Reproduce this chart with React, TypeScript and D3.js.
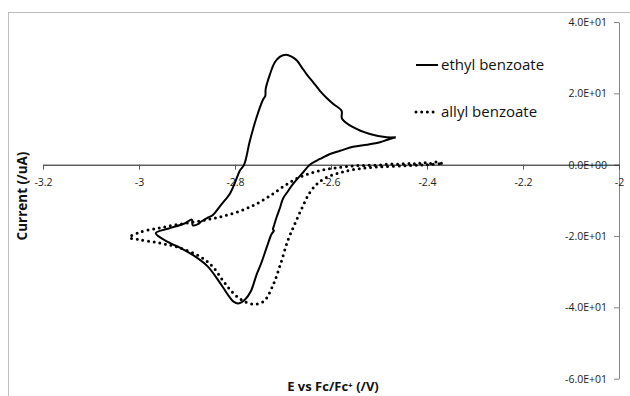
import { useRef, useEffect } from 'react';
import * as d3 from 'd3';

// axis ticks
const xTicks = [-3.2, -3, -2.8, -2.6, -2.4, -2.2, -2];
const yTicks = [40, 20, 0, -20, -40, -60];

const seriesNames = ['ethyl benzoate', 'allyl benzoate'];

// ethyl benzoate CV, starting at the right vertex (E in V, I in uA)
const ethylE = [
    -2.465, -2.484, -2.498, -2.525, -2.554, -2.581, -2.602, -2.623, -2.644, -2.661,
    -2.679, -2.689, -2.700, -2.706, -2.713, -2.719, -2.721, -2.719, -2.724, -2.734,
    -2.745, -2.755, -2.767, -2.779, -2.793, -2.803, -2.812, -2.822, -2.832, -2.857,
    -2.888, -2.913, -2.938, -2.965,
    -2.938, -2.905, -2.890, -2.888, -2.876, -2.871, -2.856, -2.846, -2.831, -2.820,
    -2.810, -2.800, -2.790, -2.781, -2.769, -2.755, -2.741, -2.737, -2.736, -2.727,
    -2.717, -2.706, -2.694, -2.682, -2.671, -2.661, -2.651, -2.637, -2.623, -2.609,
    -2.595, -2.578, -2.577, -2.554, -2.519, -2.484, -2.465
];
const ethylI = [
    7.7, 6.9, 6.3, 5.6, 5.0, 3.9, 3.0, 1.6, 0, -2.6,
    -5.4, -7.3, -9.5, -12.0, -14.6, -17.2, -18.2, -18.5, -19.5, -23.2,
    -27.5, -30.8, -35.5, -37.8, -38.9, -38.4, -37.0, -35.0, -33.0, -28.5,
    -25.3, -23.4, -21.8, -19.2,
    -17.9, -16.5, -15.4, -17.0, -16.6, -16.0, -14.8, -14.1, -11.6, -9.8,
    -8.0, -5.0, -1.7, 0, 6.7, 13.3, 18.4, 19.2, 21.3, 25.4,
    28.7, 30.3, 30.8, 30.3, 29.2, 27.3, 25.4, 23.1, 20.7, 18.7,
    17.0, 15.1, 12.9, 10.5, 8.6, 7.7, 7.7
];

// allyl benzoate CV, starting at the right end
const allylE = [
    -2.370, -2.380, -2.390, -2.400, -2.410, -2.420, -2.430, -2.440, -2.460, -2.480,
    -2.500, -2.525, -2.550, -2.580, -2.610, -2.640, -2.670, -2.700, -2.730, -2.760,
    -2.790, -2.830, -2.870, -2.920, -2.960, -3.000, -3.020,
    -3.000, -2.960, -2.920, -2.870, -2.845, -2.825, -2.805, -2.785, -2.762, -2.740,
    -2.720, -2.705, -2.690, -2.675, -2.660, -2.645, -2.630, -2.610, -2.580, -2.545,
    -2.500, -2.440, -2.400, -2.370
];
const allylI = [
    0.4, 0.8, 0.3, 0.7, 0.2, 0.6, 0.1, 0.4, 0.1, 0.2,
    -0.1, -0.2, -0.3, -0.7, -1.3, -2.3, -3.8, -6.2, -9.0, -11.3,
    -13.0, -14.6, -15.7, -16.8, -17.8, -19.0, -20.4,
    -21.0, -21.9, -23.1, -26.0, -28.8, -32.5, -35.8, -38.0, -39.1, -38.3,
    -33.5, -27.8, -21.3, -16.5, -12.0, -8.0, -5.5, -3.6, -2.2, -1.2,
    -0.6, -0.3, 0.0, 0.3
];

const sci = (v: number) => {
    if (v === 0) return '0.0E+00';
    const e = Math.floor(Math.log10(Math.abs(v)));
    const m = v / Math.pow(10, e);
    return m.toFixed(1) + 'E' + (e < 0 ? '-' : '+') + String(Math.abs(e)).padStart(2, '0');
};

const App = () => {
    const svgRef = useRef<SVGSVGElement>(null);

    useEffect(() => {
        const svg = d3.select(svgRef.current);
        svg.selectAll('*').remove();
        const width = 630;
        const height = 396;
        const font = "'Open Sans', sans-serif";

        const x = d3.scaleLinear().domain([-3.2, -2]).range([43, 619]);
        const y = d3.scaleLinear().domain([-60, 40]).range([378.7, 22]);

        svg.append('rect').attr('width', width).attr('height', height).attr('fill', '#fff');

        // chart area border (right/bottom run off the picture)
        svg.append('rect')
            .attr('x', 8.5).attr('y', 12.5)
            .attr('width', 700).attr('height', 500)
            .attr('fill', 'none').attr('stroke', '#bdbdbd');

        // y axis on the right
        const gy = svg.append('g')
            .attr('transform', `translate(${x(-2)},0)`)
            .call(d3.axisLeft(y).tickValues(yTicks).tickSize(5).tickSizeOuter(0).tickPadding(7).tickFormat((d) => sci(+d)));
        gy.select('.domain').attr('stroke', '#868686');
        gy.selectAll('.tick line').attr('stroke', '#868686');
        gy.selectAll('text').attr('font-family', font).attr('font-size', 10.5).attr('fill', '#222');

        // x axis through zero
        const gx = svg.append('g')
            .attr('transform', `translate(0,${y(0)})`)
            .call(d3.axisBottom(x).tickValues(xTicks).tickSize(5).tickSizeOuter(0).tickPadding(9).tickFormat((d) => String(d)));
        gx.select('.domain').attr('stroke', '#111');
        gx.selectAll('.tick line').attr('stroke', '#555');
        gx.selectAll('text').attr('font-family', font).attr('font-size', 10.5).attr('fill', '#222');

        const line = d3.line<[number, number]>()
            .x((d) => x(d[0]))
            .y((d) => y(d[1]))
            .curve(d3.curveCatmullRom.alpha(0.5));

        const ethyl = ethylE.map((e, i) => [e, ethylI[i]] as [number, number]);
        const allyl = allylE.map((e, i) => [e, allylI[i]] as [number, number]);

        svg.append('path')
            .attr('d', line(allyl))
            .attr('fill', 'none')
            .attr('stroke', '#000')
            .attr('stroke-width', 3)
            .attr('stroke-linecap', 'round')
            .attr('stroke-dasharray', '0 5.7');

        svg.append('path')
            .attr('d', line(ethyl))
            .attr('fill', 'none')
            .attr('stroke', '#000')
            .attr('stroke-width', 2)
            .attr('stroke-linejoin', 'round');

        // legend
        const legend = svg.append('g');
        const legendY = [65, 112];
        seriesNames.forEach((name, i) => {
            const ln = legend.append('line')
                .attr('x1', 416).attr('x2', 438)
                .attr('y1', legendY[i]).attr('y2', legendY[i])
                .attr('stroke', '#000');
            if (i === 0) {
                ln.attr('stroke-width', 2);
            } else {
                ln.attr('stroke-width', 3).attr('stroke-linecap', 'round').attr('stroke-dasharray', '0 5.7');
            }
            legend.append('text')
                .attr('x', 441).attr('y', legendY[i]).attr('dy', '0.35em')
                .attr('font-family', font).attr('font-size', 15).attr('fill', '#111')
                .text(name);
        });

        // axis titles
        svg.append('text')
            .attr('x', 333).attr('y', 386).attr('dy', '0.35em')
            .attr('text-anchor', 'middle')
            .attr('font-family', font).attr('font-size', 13).attr('font-weight', 'bold').attr('fill', '#111')
            .text('E vs Fc/Fc\u207A (/V)');

        svg.append('text')
            .attr('transform', 'translate(22,196) rotate(-90)')
            .attr('dy', '0.35em')
            .attr('text-anchor', 'middle')
            .attr('font-family', font).attr('font-size', 13.5).attr('font-weight', 'bold').attr('fill', '#111')
            .text('Current (/uA)');
    }, []);

    return (
        <svg ref={svgRef} width={630} height={396} style={{ position: 'fixed', left: 0, top: 0 }} />
    );
};

export default App;
